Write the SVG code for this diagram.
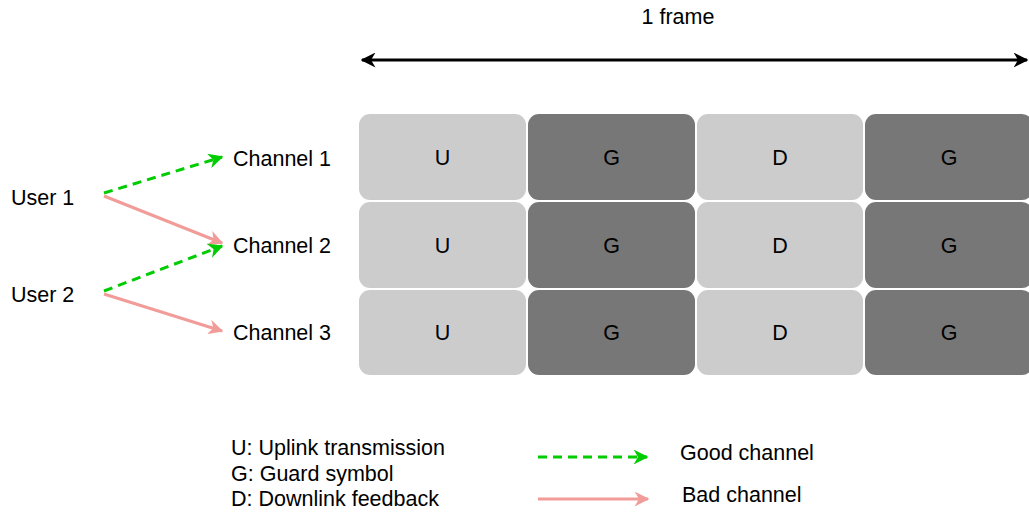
<svg xmlns="http://www.w3.org/2000/svg" width="1029" height="513" viewBox="0 0 1029 513">
<style>
text{font-family:"Liberation Sans",Arial,sans-serif;font-size:21.5px;fill:#000}
.c{text-anchor:middle;dominant-baseline:central}
.l{fill:#CCCCCC}
.d{fill:#777777}
.good{stroke:#00CC00;stroke-width:3;stroke-dasharray:9 6;fill:none}
.bad{stroke:#F19C99;stroke-width:3;fill:none}
</style>
<defs>
<marker id="ag" viewBox="0 0 10 10" refX="9" refY="5" markerWidth="5" markerHeight="5" markerUnits="strokeWidth" orient="auto"><path d="M0,0 L10,5 L0,10 L3,5 Z" fill="#00CC00"/></marker>
<marker id="ar" viewBox="0 0 10 10" refX="9" refY="5" markerWidth="5" markerHeight="5" markerUnits="strokeWidth" orient="auto"><path d="M0,0 L10,5 L0,10 L3,5 Z" fill="#F19C99"/></marker>
<marker id="ab" viewBox="0 0 10 10" refX="9" refY="5" markerWidth="5" markerHeight="5" markerUnits="strokeWidth" orient="auto-start-reverse"><path d="M0,0 L10,5 L0,10 L3,5 Z" fill="#000"/></marker>
</defs>
<rect width="1029" height="513" fill="#fff"/>
<g id="frame-label"><text class="c" x="678" y="17">1 frame</text></g>
<g id="connectors">
<line x1="362" y1="60" x2="1027" y2="60" stroke="#000" stroke-width="3" marker-start="url(#ab)" marker-end="url(#ab)"/>
<line class="good" x1="104" y1="193" x2="222" y2="157" marker-end="url(#ag)"/>
<line class="bad" x1="104" y1="196" x2="222" y2="243" marker-end="url(#ar)"/>
<line class="good" x1="104" y1="291" x2="222" y2="246" marker-end="url(#ag)"/>
<line class="bad" x1="104" y1="294" x2="222" y2="331" marker-end="url(#ar)"/>
<line class="good" x1="538" y1="457" x2="647" y2="457" marker-end="url(#ag)"/>
<line class="bad" x1="538" y1="499" x2="648" y2="499" marker-end="url(#ar)"/>
</g>
<g id="user1"><text x="11" y="205">User 1</text></g>
<g id="user2"><text x="11" y="302">User 2</text></g>
<g id="channel1"><text x="233" y="166">Channel 1</text></g>
<g id="channel2"><text x="233" y="253">Channel 2</text></g>
<g id="channel3"><text x="233" y="340">Channel 3</text></g>
<g id="row1">
<g id="r1u"><rect class="l" x="359" y="114" width="167" height="86" rx="11"/><text class="c" x="442.5" y="158">U</text></g>
<g id="r1g1"><rect class="d" x="528" y="114" width="167" height="86" rx="11"/><text class="c" x="611.5" y="158">G</text></g>
<g id="r1d"><rect class="l" x="697" y="114" width="166" height="86" rx="11"/><text class="c" x="780" y="158">D</text></g>
<g id="r1g2"><rect class="d" x="865" y="114" width="168" height="86" rx="11"/><text class="c" x="949" y="158">G</text></g>
</g>
<g id="row2">
<g id="r2u"><rect class="l" x="359" y="202" width="167" height="86" rx="11"/><text class="c" x="442.5" y="246">U</text></g>
<g id="r2g1"><rect class="d" x="528" y="202" width="167" height="86" rx="11"/><text class="c" x="611.5" y="246">G</text></g>
<g id="r2d"><rect class="l" x="697" y="202" width="166" height="86" rx="11"/><text class="c" x="780" y="246">D</text></g>
<g id="r2g2"><rect class="d" x="865" y="202" width="168" height="86" rx="11"/><text class="c" x="949" y="246">G</text></g>
</g>
<g id="row3">
<g id="r3u"><rect class="l" x="359" y="290" width="167" height="85" rx="11"/><text class="c" x="442.5" y="333">U</text></g>
<g id="r3g1"><rect class="d" x="528" y="290" width="167" height="85" rx="11"/><text class="c" x="611.5" y="333">G</text></g>
<g id="r3d"><rect class="l" x="697" y="290" width="166" height="85" rx="11"/><text class="c" x="780" y="333">D</text></g>
<g id="r3g2"><rect class="d" x="865" y="290" width="168" height="85" rx="11"/><text class="c" x="949" y="333">G</text></g>
</g>
<g id="legend">
<text x="231" y="455">U: Uplink transmission</text>
<text x="231" y="481">G: Guard symbol</text>
<text x="231" y="506">D: Downlink feedback</text>
<text x="680" y="460">Good channel</text>
<text x="682" y="502">Bad channel</text>
</g>
</svg>
